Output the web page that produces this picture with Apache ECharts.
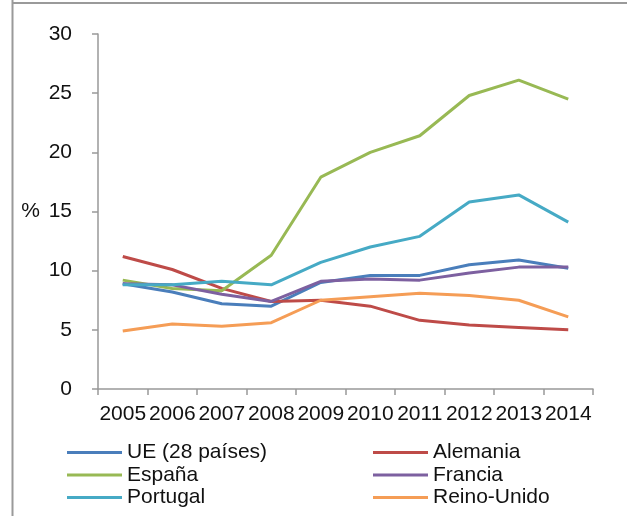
<!DOCTYPE html>
<html>
<head>
<meta charset="utf-8">
<script src="https://cdn.jsdelivr.net/npm/echarts@6/dist/echarts.min.js"></script>
<style>
html,body{margin:0;padding:0;background:#fff;}
#chart{width:627px;height:516px;}
</style>
</head>
<body>
<div id="chart"></div>
<script>
const years = ['2005','2006','2007','2008','2009','2010','2011','2012','2013','2014'];
const ue = [8.9, 8.2, 7.2, 7.0, 9.0, 9.6, 9.6, 10.5, 10.9, 10.2];
const alemania = [11.2, 10.1, 8.5, 7.4, 7.5, 7.0, 5.8, 5.4, 5.2, 5.0];
const espana = [9.2, 8.5, 8.3, 11.3, 17.9, 20.0, 21.4, 24.8, 26.1, 24.5];
const francia = [8.9, 8.8, 8.0, 7.4, 9.1, 9.3, 9.2, 9.8, 10.3, 10.3];
const portugal = [8.8, 8.8, 9.1, 8.8, 10.7, 12.0, 12.9, 15.8, 16.4, 14.1];
const reinoUnido = [4.9, 5.5, 5.3, 5.6, 7.5, 7.8, 8.1, 7.9, 7.5, 6.1];
const yTicks = [0, 5, 10, 15, 20, 25, 30];

const names = ['UE (28 países)','Alemania','España','Francia','Portugal','Reino-Unido'];
const datas = [ue, alemania, espana, francia, portugal, reinoUnido];
const colors = ['#4A7EBB','#BE4B48','#98B954','#7D60A0','#46AAC5','#F59D56'];
const font = '"Liberation Sans", Arial, sans-serif';

const chart = echarts.init(document.getElementById('chart'), null, {renderer:'canvas'});
const legendCommon = {
  orient:'vertical', top:437, itemWidth:55, itemHeight:3, itemGap:1.5,
  icon:'rect', selectedMode:false,
  textStyle:{fontFamily:font, fontSize:21, color:'#111', lineHeight:21, padding:[0,0,0,0]}
};
chart.setOption({
  animation:false,
  color: colors,
  grid:{left:98, right:34, top:34, bottom:127, containLabel:false},
  graphic:[
    {type:'line', shape:{x1:12.5, y1:0, x2:12.5, y2:516}, style:{stroke:'#9a9a9a', lineWidth:2}},
    {type:'line', shape:{x1:12, y1:3, x2:627, y2:3}, style:{stroke:'#9a9a9a', lineWidth:2}}
  ],
  legend:[
    Object.assign({left:62, data:[names[0], names[2], names[4]]}, legendCommon),
    Object.assign({left:368, data:[names[1], names[3], names[5]]}, legendCommon)
  ],
  xAxis:{
    type:'category', data:years, boundaryGap:true,
    axisLine:{lineStyle:{color:'#999', width:1.5}},
    axisTick:{show:true, length:6, lineStyle:{color:'#999', width:1.5}},
    axisLabel:{interval:0, margin:15, fontFamily:font, fontSize:21, color:'#111'},
    splitLine:{show:false}
  },
  yAxis:{
    type:'value', min:0, max:30, interval:5,
    name:'%', nameLocation:'middle', nameRotate:0, nameGap:58,
    nameTextStyle:{fontFamily:font, fontSize:21, color:'#111', fontWeight:'normal'},
    axisLine:{show:true, lineStyle:{color:'#999', width:1.5}},
    axisTick:{show:true, length:6, lineStyle:{color:'#999', width:1.5}},
    axisLabel:{margin:26, fontFamily:font, fontSize:21, color:'#111',
      formatter: v => yTicks.includes(v) ? String(v) : ''},
    splitLine:{show:false}
  },
  series: names.map((n,i)=>({
    name:n, type:'line', data:datas[i], showSymbol:false, symbol:'none',
    lineStyle:{width:3, color:colors[i]}, itemStyle:{color:colors[i]}
  }))
});
</script>
</body>
</html>
